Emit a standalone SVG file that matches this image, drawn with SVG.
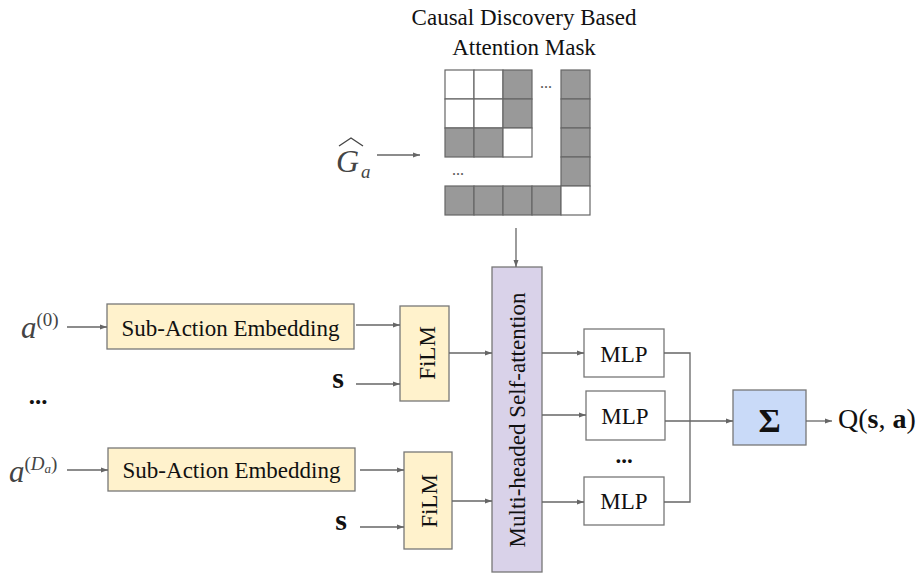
<svg xmlns="http://www.w3.org/2000/svg" width="920" height="574" viewBox="0 0 920 574">
<defs>
<marker id="ah" markerWidth="7" markerHeight="6" refX="7" refY="3" orient="auto" markerUnits="userSpaceOnUse">
<path d="M0,0.5 L7,3 L0,5.5 Z" fill="#666"/>
</marker>
<style>
.t{font-family:"Liberation Serif","Times New Roman",serif;font-size:23px;fill:#111}
.m{font-family:"Liberation Serif","Times New Roman",serif;font-style:italic;fill:#444}
.c{fill:none;stroke:#666;stroke-width:1.3}
.a{marker-end:url(#ah)}
.y{fill:#fff2cc;stroke:#777;stroke-width:1.3}
.w{fill:#fff;stroke:#777;stroke-width:1.3}
.g{fill:#999;stroke:#666;stroke-width:1.2}
.e{fill:#fff;stroke:#666;stroke-width:1.2}
</style>
</defs>
<rect width="920" height="574" fill="#fff"/>

<g id="title">
<text class="t" x="524" y="25" text-anchor="middle">Causal Discovery Based</text>
<text class="t" x="524" y="55" text-anchor="middle">Attention Mask</text>
</g>

<g id="mask">
<rect class="e" x="445" y="70" width="29" height="29"/>
<rect class="e" x="474" y="70" width="29" height="29"/>
<rect class="g" x="503" y="70" width="29" height="29"/>
<rect class="e" x="445" y="99" width="29" height="29"/>
<rect class="e" x="474" y="99" width="29" height="29"/>
<rect class="g" x="503" y="99" width="29" height="29"/>
<rect class="g" x="445" y="128" width="29" height="29"/>
<rect class="g" x="474" y="128" width="29" height="29"/>
<rect class="e" x="503" y="128" width="29" height="29"/>
<rect class="g" x="561" y="70" width="29" height="29"/>
<rect class="g" x="561" y="99" width="29" height="29"/>
<rect class="g" x="561" y="128" width="29" height="29"/>
<rect class="g" x="561" y="157" width="29" height="29"/>
<rect class="g" x="445" y="186" width="29" height="29"/>
<rect class="g" x="474" y="186" width="29" height="29"/>
<rect class="g" x="503" y="186" width="29" height="29"/>
<rect class="g" x="532" y="186" width="29" height="29"/>
<rect class="e" x="561" y="186" width="29" height="29"/>
<text x="546" y="88" text-anchor="middle" style="font-family:'Liberation Serif',serif;font-size:16px;fill:#555">...</text>
<text x="458" y="175" text-anchor="middle" style="font-family:'Liberation Serif',serif;font-size:16px;fill:#555">...</text>
</g>

<g id="g-hat">
<text class="m" x="336" y="172" style="font-size:32px">G</text>
<text class="m" x="361" y="178" style="font-size:19px">a</text>
<path d="M339,146 L351,138 L363,146" fill="none" stroke="#444" stroke-width="1.3"/>
</g>

<g id="a0">
<text class="m" x="21" y="338" style="font-size:31px">a<tspan dy="-12" font-size="19" font-style="normal">(0)</tspan></text>
</g>
<g id="aDa">
<text class="m" x="9" y="482" style="font-size:31px">a<tspan dy="-12" font-size="19" font-style="normal">(</tspan><tspan font-size="19">D</tspan><tspan dy="3" font-size="13">a</tspan><tspan dy="-3" font-size="19" font-style="normal">)</tspan></text>
</g>
<g id="dots-left">
<text class="t" x="38" y="404" text-anchor="middle" style="font-weight:bold;font-size:25px">...</text>
</g>

<g id="sae1">
<rect class="y" x="107" y="304" width="247" height="45"/>
<text class="t" x="230.5" y="336" text-anchor="middle">Sub-Action Embedding</text>
</g>
<g id="sae2">
<rect class="y" x="108" y="448" width="247" height="43"/>
<text class="t" x="231.5" y="478" text-anchor="middle">Sub-Action Embedding</text>
</g>

<g id="s1"><text class="t" x="338" y="388" text-anchor="middle" style="font-weight:bold;font-size:30px">s</text></g>
<g id="s2"><text class="t" x="341" y="530" text-anchor="middle" style="font-weight:bold;font-size:30px">s</text></g>

<g id="film1">
<rect class="y" x="400" y="306" width="49" height="95"/>
<text class="t" transform="translate(435,353) rotate(-90)" text-anchor="middle">FiLM</text>
</g>
<g id="film2">
<rect class="y" x="404" y="452" width="48" height="97"/>
<text class="t" transform="translate(437,501) rotate(-90)" text-anchor="middle">FiLM</text>
</g>

<g id="attention">
<rect x="492" y="267" width="50" height="305" fill="#d9d2e9" stroke="#777" stroke-width="1.3"/>
<text class="t" transform="translate(525,420) rotate(-90)" text-anchor="middle">Multi-headed Self-attention</text>
</g>

<g id="mlp1">
<rect class="w" x="584" y="329" width="80" height="48"/>
<text class="t" x="624" y="362" text-anchor="middle">MLP</text>
</g>
<g id="mlp2">
<rect class="w" x="586" y="391" width="79" height="49"/>
<text class="t" x="625" y="424" text-anchor="middle">MLP</text>
</g>
<g id="mlp-dots">
<text class="t" x="624" y="463" text-anchor="middle" style="font-weight:bold">...</text>
</g>
<g id="mlp3">
<rect class="w" x="584" y="477" width="80" height="48"/>
<text class="t" x="624" y="509" text-anchor="middle">MLP</text>
</g>

<g id="sum">
<rect x="733" y="390" width="73" height="55" fill="#c9daf8" stroke="#777" stroke-width="1.3"/>
<text x="769.5" y="432" text-anchor="middle" style="font-family:'Liberation Serif',serif;font-size:34px;font-weight:bold;fill:#111">Σ</text>
</g>

<g id="q">
<text class="t" x="838" y="428" style="font-size:28px">Q(<tspan font-weight="bold">s</tspan>, <tspan font-weight="bold">a</tspan>)</text>
</g>

<g id="connectors">
<line class="c a" x1="377" y1="155" x2="420" y2="155"/>
<line class="c a" x1="516" y1="228" x2="516" y2="267"/>
<line class="c a" x1="67" y1="327" x2="107" y2="327"/>
<line class="c a" x1="67" y1="470" x2="108" y2="470"/>
<line class="c a" x1="356" y1="325" x2="400" y2="325"/>
<line class="c a" x1="356" y1="384" x2="400" y2="384"/>
<line class="c a" x1="360" y1="470" x2="404" y2="470"/>
<line class="c a" x1="360" y1="527" x2="404" y2="527"/>
<line class="c a" x1="449" y1="353" x2="492" y2="353"/>
<line class="c a" x1="452" y1="501" x2="492" y2="501"/>
<line class="c a" x1="542" y1="353" x2="584" y2="353"/>
<line class="c a" x1="542" y1="415" x2="586" y2="415"/>
<line class="c a" x1="542" y1="502" x2="584" y2="502"/>
<polyline class="c" points="664,353 690,353 690,502 664,502"/>
<line class="c a" x1="665" y1="421" x2="733" y2="421"/>
<line class="c a" x1="806" y1="421" x2="832" y2="421"/>
</g>
</svg>
